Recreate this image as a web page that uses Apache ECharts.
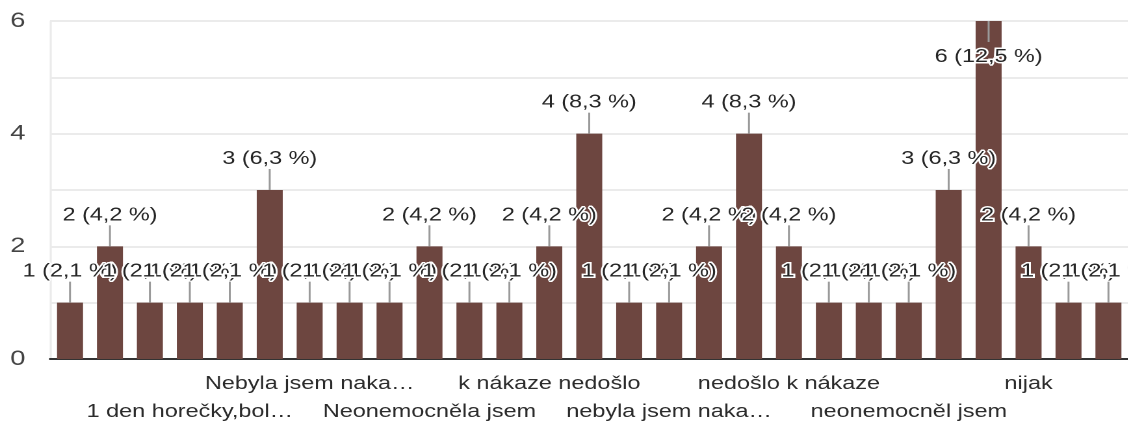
<!DOCTYPE html>
<html>
<head>
<meta charset="utf-8">
<title>Bar chart</title>
<script src="https://cdn.jsdelivr.net/npm/echarts@6/dist/echarts.min.js"></script>
<style>
  html, body { margin: 0; padding: 0; background: #fff; overflow: hidden; }
  /* The chart is laid out narrow and widened horizontally, giving the wide lettering */
  #chart { width: 868px; height: 430px; transform: scaleX(1.3); transform-origin: 0 0; }
</style>
</head>
<body>
<div id="chart"></div>
<script>
// Answer labels (only the ones printed under the axis)
const categories = [
  '', '', '', '1 den horečky,bol…', '', '', 'Nebyla jsem naka…', '', '',
  'Neonemocněla jsem', '', '', 'k nákaze nedošlo', '', '', 'nebyla jsem naka…', '', '',
  'nedošlo k nákaze', '', '', 'neonemocněl jsem', '', '', 'nijak', '', ''
];
// Response counts per answer
const counts = [1, 2, 1, 1, 1, 3, 1, 1, 1, 2, 1, 1, 2, 4, 1, 1, 2, 4, 2, 1, 1, 1, 3, 6, 2, 1, 1];
// Value axis
const yTickLabels = [0, 2, 4, 6];
const yMax = 6;
// Answers printed on the lower of the two label rows
const lowerRow = [3, 9, 15, 21];

const total = counts.reduce((a, b) => a + b, 0);
const pctText = v => (v / total * 100).toFixed(1).replace('.', ',');

const FONT = '"Liberation Sans", Arial, sans-serif';
const chart = echarts.init(document.getElementById('chart'), null, { devicePixelRatio: 2 });

chart.setOption({
  animation: false,
  grid: { left: 38.5, top: 21, width: 833, bottom: 71 },
  xAxis: {
    type: 'category',
    data: categories,
    axisTick: { show: false },
    axisLine: { lineStyle: { color: '#333', width: 2 } },
    axisLabel: {
      interval: 0,
      margin: 11,
      lineHeight: 28,
      fontFamily: FONT,
      fontSize: 18,
      color: '#2b2b2b',
      formatter: (val, idx) => (lowerRow.includes(idx) ? '\n' + val : val)
    }
  },
  yAxis: {
    type: 'value',
    min: 0,
    max: yMax,
    interval: 1,
    axisLine: { show: true, lineStyle: { color: '#ebebeb', width: 1.6 } },
    axisTick: { show: false },
    splitLine: { lineStyle: { color: '#ebebeb', width: 2 } },
    axisLabel: {
      margin: 19,
      fontFamily: FONT,
      fontSize: 21,
      color: '#444',
      formatter: v => (yTickLabels.includes(v) ? String(v) : '')
    }
  },
  series: [
    {
      type: 'bar',
      data: counts,
      barWidth: 20,
      itemStyle: { color: '#6d4640' },
      z: 2
    },
    {
      // value labels with short leader lines
      type: 'custom',
      data: counts.map((v, i) => [i, v]),
      z: 5,
      renderItem: (params, api) => {
        const i = api.value(0);
        const v = api.value(1);
        const top = api.coord([i, v]);
        const inside = v >= yMax;
        const dir = inside ? 1 : -1;
        const lineEnd = top[1] + dir * 21;
        const textY = top[1] + dir * (inside ? 36 : 31);
        return {
          type: 'group',
          children: [
            {
              type: 'line',
              shape: { x1: top[0], y1: top[1], x2: top[0], y2: lineEnd },
              style: { stroke: '#9a9a9a', lineWidth: 1.5 }
            },
            {
              type: 'text',
              style: {
                x: top[0],
                y: textY,
                text: v + ' (' + pctText(v) + ' %)',
                font: '18px ' + FONT,
                fill: '#262626',
                stroke: '#fff',
                lineWidth: 3,
                align: 'center',
                verticalAlign: 'middle',
                textAlign: 'center',
                textVerticalAlign: 'middle'
              }
            }
          ]
        };
      }
    }
  ]
});
</script>
</body>
</html>
